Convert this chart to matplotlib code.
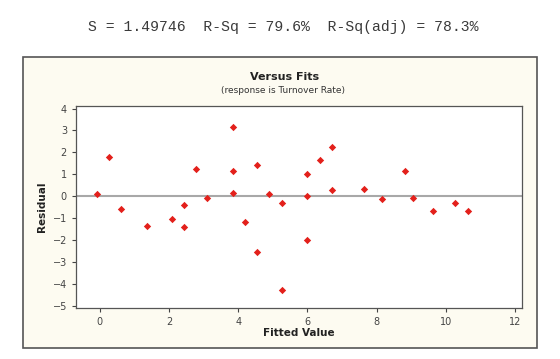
import matplotlib.pyplot as plt
from matplotlib.patches import Rectangle

# residuals vs fitted values
fitted = [-0.08, 0.26, 0.62, 1.37, 2.08, 2.42, 2.42, 2.77, 3.10, 3.85, 3.85, 3.85,
          4.20, 4.54, 4.54, 4.90, 5.26, 5.26, 6.00, 6.00, 6.00, 6.35, 6.72, 6.72,
          7.64, 8.15, 8.83, 9.06, 9.62, 10.27, 10.64]
residual = [0.09, 1.78, -0.59, -1.34, -1.05, -0.38, -1.39, 1.25, -0.09, 3.17, 1.16, 0.15,
            -1.17, 1.43, -2.56, 0.09, -0.30, -4.26, 1.00, 0.00, -1.98, 1.63, 2.25, 0.30,
            0.35, -0.11, 1.16, -0.08, -0.67, -0.30, -0.67]

xticks = [0, 2, 4, 6, 8, 10, 12]
yticks = [4, 3, 2, 1, 0, -1, -2, -3, -4, -5]

fig = plt.figure(figsize=(5.6, 3.59), dpi=100)

# minitab-style graph frame
frame = Rectangle((0.041, 0.031), 0.918, 0.81, transform=fig.transFigure,
                  facecolor='#fdfbf1', edgecolor='#555555', linewidth=1.2, zorder=-10)
fig.patches.append(frame)

fig.text(0.506, 0.925, 'S = 1.49746  R-Sq = 79.6%  R-Sq(adj) = 78.3%',
         family='Liberation Mono', fontsize=10.6, ha='center', va='center', color='#3a3a3a')

ax = fig.add_axes([0.1357, 0.142, 0.7963, 0.563], zorder=5)
ax.set_facecolor('white')
ax.axhline(0, color='#a8a8a8', linewidth=1.5, zorder=1)
ax.scatter(fitted, residual, marker='D', s=14, color='#e3201b', zorder=3, linewidths=0)

ax.set_xlim(-0.69, 12.2)
ax.set_ylim(-5.1, 4.12)
ax.set_xticks(xticks)
ax.set_yticks(yticks)
ax.tick_params(labelsize=7, colors='#444444', length=3, width=0.8)
for s in ax.spines.values():
    s.set_color('#555555')
    s.set_linewidth(0.9)

ax.set_xlabel('Fitted Value', fontsize=7.5, fontweight='bold', labelpad=1, color='#222222')
ax.set_ylabel('Residual', fontsize=7.5, fontweight='bold', labelpad=4, color='#222222')

fig.text(0.509, 0.785, 'Versus Fits', fontsize=8, fontweight='bold', ha='center',
         va='center', color='#222222')
fig.text(0.506, 0.747, '(response is Turnover Rate)', fontsize=6.5, ha='center',
         va='center', color='#333333')

fig.savefig('out.png', dpi=100, facecolor='white')
